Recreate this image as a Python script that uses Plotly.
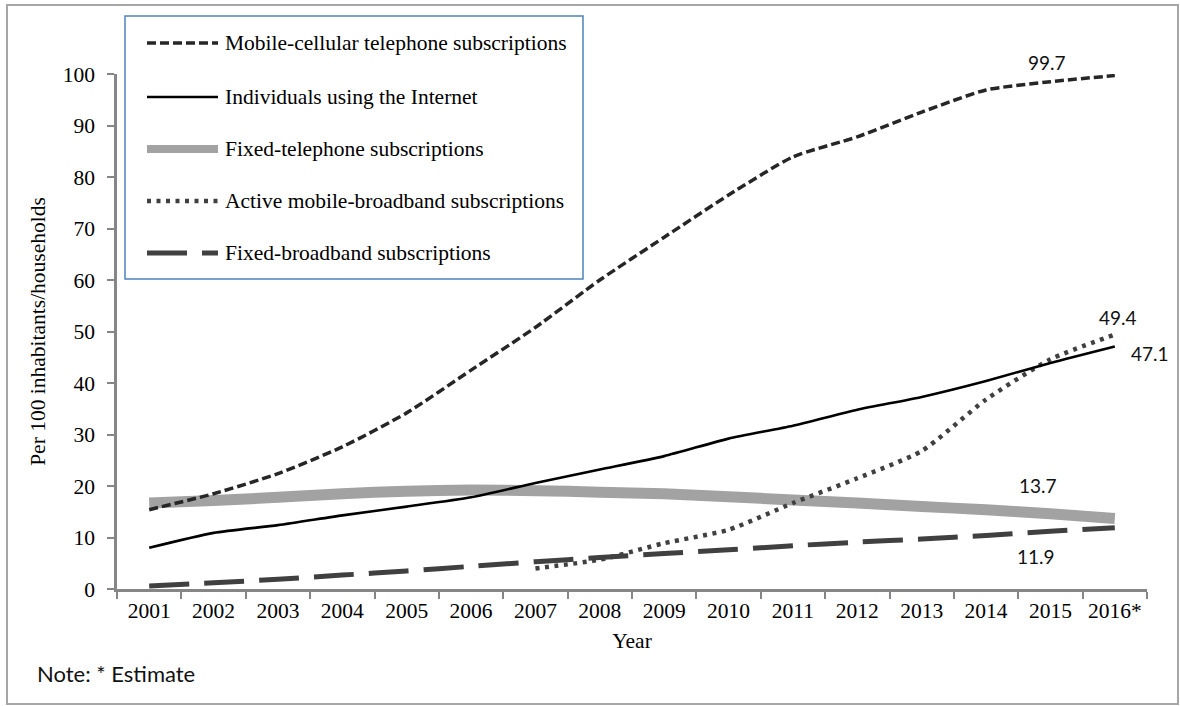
import plotly.graph_objects as go

# ---- data -------------------------------------------------------------
years = ["2001", "2002", "2003", "2004", "2005", "2006", "2007", "2008",
         "2009", "2010", "2011", "2012", "2013", "2014", "2015", "2016*"]

mobile_cellular = [15.4, 18.5, 22.4, 27.6, 34.2, 42.5, 50.8, 60.0,
                   68.3, 76.5, 83.9, 87.8, 92.6, 96.9, 98.5, 99.7]
internet_users = [8.0, 10.9, 12.4, 14.3, 16.0, 17.8, 20.6, 23.2,
                  25.8, 29.2, 31.7, 34.8, 37.3, 40.4, 43.9, 47.1]
fixed_telephone = [16.7, 17.2, 17.8, 18.5, 19.0, 19.2, 19.1, 18.8,
                   18.5, 17.9, 17.3, 16.7, 16.0, 15.4, 14.6, 13.7]
mobile_broadband = [None, None, None, None, None, None, 4.0, 5.7,
                    8.9, 11.5, 16.7, 21.5, 26.8, 36.8, 44.6, 49.4]
fixed_broadband = [0.6, 1.2, 1.9, 2.7, 3.5, 4.4, 5.3, 6.1,
                   6.9, 7.6, 8.4, 9.1, 9.7, 10.4, 11.2, 11.9]

series_names = ["Mobile-cellular telephone subscriptions",
                "Individuals using the Internet",
                "Fixed-telephone subscriptions",
                "Active mobile-broadband subscriptions",
                "Fixed-broadband subscriptions"]

y_ticks = [0, 10, 20, 30, 40, 50, 60, 70, 80, 90, 100]

# ---- styling ----------------------------------------------------------
W, H = 1180, 706
L, R, T, B = 117, 33, 74, 117
SERIF = "Liberation Serif"
SANS = "Lato"
AXIS_GREY = "#868686"

styles = [
    dict(color="#262626", width=3.5, dash="9px,4px"),
    dict(color="#000000", width=2.6, dash="solid"),
    dict(color="#a2a2a2", width=11, dash="solid"),
    dict(color="#404040", width=4.5, dash="4px,5.5px"),
    dict(color="#404040", width=5, dash="40px,15px"),
]
series = [mobile_cellular, internet_users, fixed_telephone,
          mobile_broadband, fixed_broadband]
draw_order = [2, 4, 3, 1, 0]


def px_x(x):
    return (x - L) / (W - L - R)


def px_y(y):
    return (H - B - y) / (H - T - B)


fig = go.Figure()
for i in draw_order:
    fig.add_trace(go.Scatter(
        x=years, y=series[i], name=series_names[i], mode="lines",
        line=dict(shape="spline", smoothing=0.6, **styles[i]),
        connectgaps=False, showlegend=False, hoverinfo="x+y+name"))

shapes = []
annotations = []

# outer frame
shapes.append(dict(type="rect", xref="paper", yref="paper",
                   x0=px_x(7), x1=px_x(1178), y0=px_y(704), y1=px_y(5),
                   line=dict(color="#a6a6a6", width=2), layer="below"))

# legend box with line samples
shapes.append(dict(type="rect", xref="paper", yref="paper",
                   x0=px_x(125), x1=px_x(583), y0=px_y(279), y1=px_y(16),
                   line=dict(color="#4f81bd", width=1.5),
                   fillcolor="white", layer="below"))
row_y = [43, 97, 149, 201, 253]
for k, name in enumerate(series_names):
    st = styles[k]
    lw = min(st["width"], 8)
    shapes.append(dict(type="line", xref="paper", yref="paper",
                       x0=px_x(147), x1=px_x(218),
                       y0=px_y(row_y[k]), y1=px_y(row_y[k]),
                       line=dict(color=st["color"], width=lw, dash=st["dash"])))
    annotations.append(dict(xref="paper", yref="paper", x=px_x(223),
                            y=px_y(row_y[k]), text=name, showarrow=False,
                            xanchor="left", yanchor="middle",
                            font=dict(family=SERIF, size=21.5, color="#000")))

# end-point value labels
last = years[-1]
labels = [
    (mobile_cellular[-1], -68, 13),
    (mobile_broadband[-1], 3, 17),
    (internet_users[-1], 35, -7),
    (fixed_telephone[-1], -77, 33),
    (fixed_broadband[-1], -79, -29),
]
for val, xs, ys in labels:
    annotations.append(dict(x=last, y=val, xref="x", yref="y",
                            text=f"{val:.1f}", showarrow=False,
                            xshift=xs, yshift=ys,
                            font=dict(family=SANS, size=19, color="#111")))

# footnote
annotations.append(dict(xref="paper", yref="paper", x=px_x(35), y=px_y(673),
                        text="Note: * Estimate", showarrow=False,
                        xanchor="left", yanchor="middle",
                        font=dict(family=SANS, size=22, color="#111")))

fig.update_layout(
    width=W, height=H,
    margin=dict(l=L, r=R, t=T, b=B, pad=0),
    paper_bgcolor="white", plot_bgcolor="white",
    shapes=shapes, annotations=annotations,
    showlegend=False,
    xaxis=dict(type="category", categoryorder="array", categoryarray=years,
               range=[-0.5, len(years) - 0.5], tickson="boundaries",
               ticks="outside", ticklen=7, tickwidth=2, tickcolor=AXIS_GREY,
               showline=True, linecolor=AXIS_GREY, linewidth=2.5,
               showgrid=False, zeroline=False,
               tickfont=dict(family=SERIF, size=21.5, color="#000"),
               title=dict(text="Year", standoff=12,
                          font=dict(family=SERIF, size=21.5, color="#000"))),
    yaxis=dict(range=[0, 100], tickvals=y_ticks,
               ticks="outside", ticklen=7, tickwidth=2, tickcolor=AXIS_GREY,
               showline=True, linecolor=AXIS_GREY, linewidth=2.5,
               showgrid=False, zeroline=False, ticklabelstandoff=8,
               tickfont=dict(family=SERIF, size=21.5, color="#000"),
               title=dict(text="Per 100 inhabitants/households", standoff=12,
                          font=dict(family=SERIF, size=21.5, color="#000"))),
)

fig.write_html("out.html")
